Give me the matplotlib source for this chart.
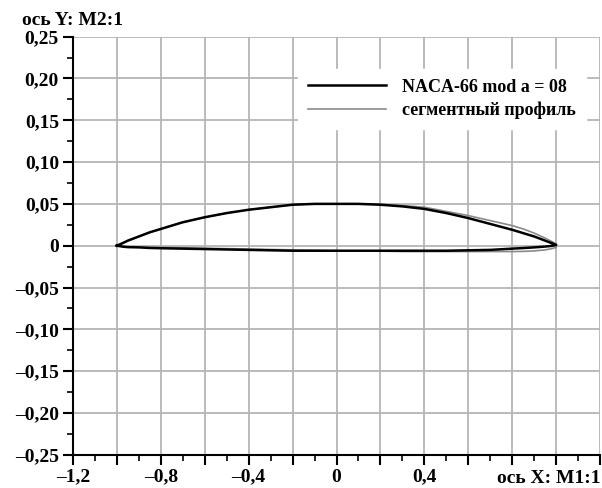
import matplotlib
matplotlib.use("Agg")
import matplotlib.pyplot as plt
from matplotlib.ticker import MultipleLocator, FuncFormatter

# Профили лопасти в относительных координатах (хорда от -1 до 1)
x_pts = [-1.0, -0.97, -0.95, -0.9, -0.85, -0.8, -0.7, -0.6, -0.5, -0.4, -0.3, -0.2, -0.1, 0.0,
         0.1, 0.2, 0.3, 0.4, 0.5, 0.6, 0.7, 0.8, 0.85, 0.9, 0.95, 0.98, 1.0]

naca_upper = [0.0, 0.0035, 0.006, 0.011, 0.016, 0.020, 0.028, 0.034, 0.039, 0.043, 0.046, 0.049,
              0.050, 0.050, 0.050, 0.049, 0.047, 0.044, 0.039, 0.033, 0.026, 0.019, 0.015,
              0.011, 0.006, 0.003, 0.001]
naca_lower = [0.0, -0.0012, -0.0017, -0.002, -0.0027, -0.003, -0.0035, -0.004, -0.0045, -0.005,
              -0.0055, -0.006, -0.006, -0.006, -0.006, -0.006, -0.006, -0.006, -0.006, -0.0055,
              -0.005, -0.0035, -0.0028, -0.002, -0.001, -0.0002, 0.001]

seg_upper = [0.0, 0.0035, 0.006, 0.011, 0.016, 0.020, 0.028, 0.034, 0.039, 0.043, 0.046, 0.049,
             0.050, 0.050, 0.050, 0.0495, 0.048, 0.046, 0.041, 0.036, 0.030, 0.024, 0.020,
             0.015, 0.009, 0.005, 0.002]
seg_lower = [0.0, -0.001, -0.0013, -0.0015, -0.0018, -0.002, -0.0025, -0.003, -0.0035, -0.004,
             -0.0045, -0.005, -0.0055, -0.006, -0.0065, -0.0065, -0.007, -0.007, -0.007, -0.007,
             -0.007, -0.007, -0.0068, -0.0062, -0.005, -0.0035, -0.002]

x_ticks_labeled = [-1.2, -0.8, -0.4, 0.0, 0.4]

plt.rcParams['font.family'] = ['Liberation Serif', 'DejaVu Serif']
plt.rcParams['font.weight'] = 'bold'


def closed(xs, up, lo):
    # верхняя поверхность от носика к кромке, нижняя обратно
    return list(xs) + list(reversed(xs)), list(up) + list(reversed(lo))


def comma_fmt(v, pos):
    if abs(v) < 1e-9:
        return '0'
    s = f'{abs(v):.2f}'.replace('.', ',')
    return ('\u2013' if v < 0 else '') + s


def x_fmt(v, pos):
    for t in x_ticks_labeled:
        if abs(v - t) < 1e-6:
            if abs(v) < 1e-9:
                return '0'
            s = f'{abs(v):.1f}'.replace('.', ',')
            return ('\u2013' if v < 0 else '') + s
    return ''


fig = plt.figure(figsize=(6.02, 4.88), dpi=100)
ax = fig.add_axes([0.121, 0.068, 0.876, 0.857])

nx, ny = closed(x_pts, naca_upper, naca_lower)
sx, sy = closed(x_pts, seg_upper, seg_lower)
ax.plot(sx, sy, color='#8a8a8a', linewidth=1.2, label='сегментный профиль', zorder=3)
ax.plot(nx, ny, color='black', linewidth=1.8, label='NACA-66 mod a = 08', zorder=4)

ax.set_xlim(-1.2, 1.2)
ax.set_ylim(-0.25, 0.25)
ax.xaxis.set_major_locator(MultipleLocator(0.2))
ax.xaxis.set_minor_locator(MultipleLocator(0.1))
ax.yaxis.set_major_locator(MultipleLocator(0.05))
ax.yaxis.set_minor_locator(MultipleLocator(0.025))
ax.xaxis.set_major_formatter(FuncFormatter(x_fmt))
ax.yaxis.set_major_formatter(FuncFormatter(comma_fmt))

ax.grid(True, which='major', color='#b5b5b5', linewidth=1.3)
ax.set_axisbelow(True)
for side in ('top', 'right'):
    ax.spines[side].set_visible(False)
for side in ('left', 'bottom'):
    ax.spines[side].set_linewidth(1.5)

ax.tick_params(which='major', direction='out', length=7, width=1.5, labelsize=14, pad=3)
ax.tick_params(which='minor', direction='out', length=4, width=1.2)

fig.text(0.037, 0.948, 'ось Y: M2:1', fontsize=14, fontweight='bold', ha='left', va='baseline')
fig.text(0.998, 0.011, 'ось X: M1:1', fontsize=14, fontweight='bold', ha='right', va='baseline')

handles, labels = ax.get_legend_handles_labels()
leg = ax.legend(handles[::-1], labels[::-1], loc='upper right', bbox_to_anchor=(0.99, 0.945),
                frameon=True, fancybox=False, framealpha=1.0, edgecolor='white',
                fontsize=13, handlelength=4.3, handletextpad=0.9, labelspacing=0.35,
                borderpad=0.55)
for txt in leg.get_texts():
    txt.set_fontweight('bold')

fig.savefig('out.png', dpi=100)
